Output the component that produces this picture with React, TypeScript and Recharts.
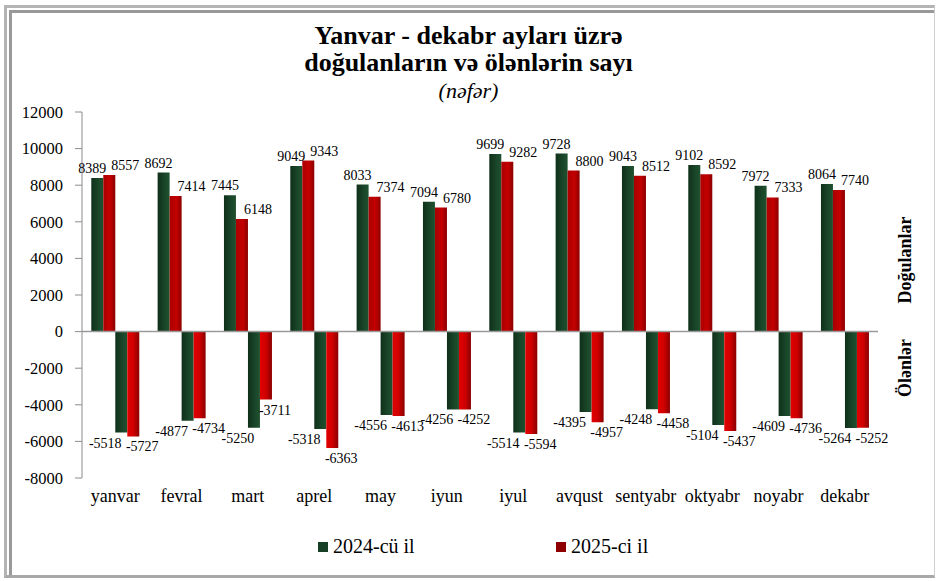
import { BarChart, Bar, XAxis, YAxis, ReferenceLine, LabelList, Legend } from 'recharts';

const months = ['yanvar', 'fevral', 'mart', 'aprel', 'may', 'iyun', 'iyul', 'avqust', 'sentyabr', 'oktyabr', 'noyabr', 'dekabr'];
const births2024 = [8389, 8692, 7445, 9049, 8033, 7094, 9699, 9728, 9043, 9102, 7972, 8064];
const births2025 = [8557, 7414, 6148, 9343, 7374, 6780, 9282, 8800, 8512, 8592, 7333, 7740];
const deaths2024 = [-5518, -4877, -5250, -5318, -4556, -4256, -5514, -4395, -4248, -5104, -4609, -5264];
const deaths2025 = [-5727, -4734, -3711, -6363, -4613, -4252, -5594, -4957, -4458, -5437, -4736, -5252];
const yTicks = [-8000, -6000, -4000, -2000, 0, 2000, 4000, 6000, 8000, 10000, 12000];
const seriesNames = ['2024-cü il', '2025-ci il'];

const data = months.map((month, i) => ({
  month,
  b24: births2024[i],
  b25: births2025[i],
  d24: deaths2024[i],
  d25: deaths2025[i],
}));

const FONT = "'Liberation Serif', 'Times New Roman', serif";
const GREEN = '#173f25';
const RED = '#8e0000';

// data labels are nudged sideways like in the original excel chart
function makeLabel(dx: number, below: boolean) {
  return (props: any) => {
    const { x, y, width, height, value } = props;
    const top = Math.min(y, y + height);
    const bottom = Math.max(y, y + height);
    return (
      <text
        x={x + width / 2 + dx}
        y={below ? bottom + 15 : top - 5}
        textAnchor="middle"
        fontSize={14}
        fontFamily={FONT}
        fill="#000"
      >
        {value}
      </text>
    );
  };
}

function LegendBox() {
  const colors = [GREEN, RED];
  return (
    <div style={{ display: 'flex', paddingLeft: 318, fontFamily: FONT, fontSize: 20, color: '#000' }}>
      {seriesNames.map((name, i) => (
        <div key={name} style={{ width: 238, display: 'flex', alignItems: 'center' }}>
          <span style={{ width: 10, height: 10, background: colors[i], marginRight: 5, display: 'inline-block' }} />
          <span>{name}</span>
        </div>
      ))}
    </div>
  );
}

export default function App() {
  return (
    <div style={{ position: 'absolute', left: 0, top: 0, width: 937, height: 581, background: '#fff' }}>
      {/* frame */}
      <div
        style={{
          position: 'absolute',
          left: 4,
          top: 5,
          width: 931,
          height: 573,
          boxSizing: 'border-box',
          borderTop: '3px solid #b4b4b4',
          borderLeft: '3px solid #b4b4b4',
          borderRight: '1px solid #d0d0d0',
          borderBottom: '3px solid #a8a8a8',
        }}
      >
        <div
          style={{
            position: 'absolute',
            left: 2,
            top: 2,
            right: 0,
            bottom: 0,
            borderTop: '3px solid #999',
            borderLeft: '3px solid #999',
          }}
        />
      </div>

      <div style={{ position: 'absolute', top: 22, left: 0, width: 937, textAlign: 'center', fontFamily: FONT, fontWeight: 'bold', fontSize: 26, lineHeight: '27px', color: '#000' }}>
        Yanvar - dekabr ayları üzrə
        <br />
        doğulanların və ölənlərin sayı
      </div>
      <div style={{ position: 'absolute', top: 79, left: 0, width: 937, textAlign: 'center', fontFamily: FONT, fontStyle: 'italic', fontSize: 22, lineHeight: '24px', color: '#000' }}>
        (nəfər)
      </div>

      <div style={{ position: 'absolute', left: 845, top: 248, width: 120, height: 24, lineHeight: '24px', textAlign: 'center', transform: 'rotate(-90deg)', fontFamily: FONT, fontWeight: 'bold', fontSize: 18, color: '#000' }}>
        Doğulanlar
      </div>
      <div style={{ position: 'absolute', left: 845, top: 356, width: 120, height: 24, lineHeight: '24px', textAlign: 'center', transform: 'rotate(-90deg)', fontFamily: FONT, fontWeight: 'bold', fontSize: 18, color: '#000' }}>
        Ölənlər
      </div>

      <div style={{ position: 'absolute', left: 0, top: 0 }}>
        <BarChart
          width={937}
          height={581}
          data={data}
          margin={{ top: 112, right: 59, bottom: 73, left: 0 }}
          barCategoryGap="14%"
          barGap={0}
        >
          <defs>
            <linearGradient id="gGreen" x1="0" y1="0" x2="1" y2="0">
              <stop offset="0%" stopColor="#0f3019" />
              <stop offset="60%" stopColor="#1a4629" />
              <stop offset="100%" stopColor="#1f5230" />
            </linearGradient>
            <linearGradient id="gRedTop" x1="0" y1="0" x2="1" y2="0">
              <stop offset="0%" stopColor="#a80000" />
              <stop offset="55%" stopColor="#c40000" />
              <stop offset="100%" stopColor="#8c0000" />
            </linearGradient>
            <linearGradient id="gRedBot" x1="0" y1="0" x2="1" y2="0">
              <stop offset="0%" stopColor="#e00000" />
              <stop offset="50%" stopColor="#d00000" />
              <stop offset="100%" stopColor="#8a0000" />
            </linearGradient>
          </defs>
          <XAxis
            dataKey="month"
            axisLine={false}
            tickLine={false}
            interval={0}
            height={30}
            tickMargin={5}
            tick={{ fontSize: 18, fontFamily: FONT, fill: '#000' }}
          />
          <YAxis
            width={82}
            domain={[-8000, 12000]}
            ticks={yTicks}
            interval={0}
            axisLine={{ stroke: '#8c8c8c' }}
            tickLine={{ stroke: '#8c8c8c' }}
            tickSize={7}
            tickMargin={12}
            tick={{ fontSize: 16.5, fontFamily: FONT, fill: '#000' }}
          />
          <ReferenceLine y={0} stroke="#9a9a9a" strokeWidth={1.5} />
          <Bar dataKey="b24" name={seriesNames[0]} fill="url(#gGreen)" isAnimationActive={false}>
            <LabelList dataKey="b24" content={makeLabel(-5, false)} />
          </Bar>
          <Bar dataKey="b25" name={seriesNames[1]} fill="url(#gRedTop)" isAnimationActive={false}>
            <LabelList dataKey="b25" content={makeLabel(16, false)} />
          </Bar>
          <Bar dataKey="d24" name={seriesNames[0]} fill="url(#gGreen)" legendType="none" isAnimationActive={false}>
            <LabelList dataKey="d24" content={makeLabel(-16, true)} />
          </Bar>
          <Bar dataKey="d25" name={seriesNames[1]} fill="url(#gRedBot)" legendType="none" isAnimationActive={false}>
            <LabelList dataKey="d25" content={makeLabel(9, true)} />
          </Bar>
          <Legend
            verticalAlign="middle"
            layout="horizontal"
            content={() => <LegendBox />}
            wrapperStyle={{ top: 535, left: 0, width: 937 }}
          />
        </BarChart>
      </div>
    </div>
  );
}
